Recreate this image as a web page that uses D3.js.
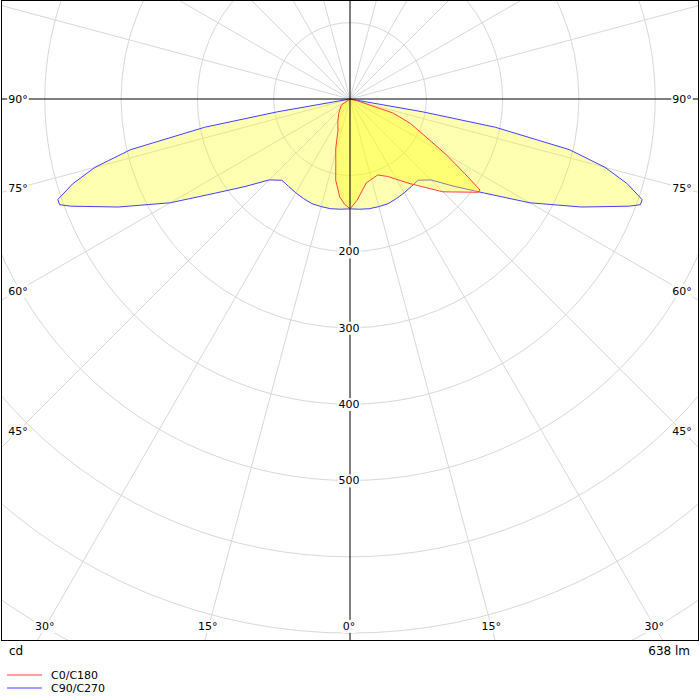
<!DOCTYPE html>
<html>
<head>
<meta charset="utf-8">
<script src="https://cdn.jsdelivr.net/npm/d3@7"></script>
<style>
  body { margin: 0; background: #fff; }
  text { font-family: Tahoma, "DejaVu Sans", sans-serif; font-size: 11px; }
</style>
</head>
<body>
<svg id="chart" width="700" height="700"></svg>
<script>
// C90/C270 (symmetric): angle from nadir (deg) -> cd
const c90Angles = [0, 5, 10, 15, 20, 25, 30, 35, 40, 45, 50, 55, 60, 65, 69, 70, 71, 73, 75, 77, 79, 80, 90]
const c90Values = [144, 145, 146, 146, 146, 144, 142, 140, 139, 150, 178, 215, 272, 335, 392, 405, 405, 380, 346, 295, 194, 96, 0]

// C0 side (right) and C180 side (left)
const c0Angles = [0, 4, 11, 20, 26, 35, 45, 54, 55, 57, 60, 63, 68, 72, 76, 90]
const c0Values = [144, 133, 112, 106, 113, 135, 172, 208, 208, 179, 145, 115, 85, 59, 10, 0]
const c180Angles = [0, 3, 6, 10, 12.5, 16, 21, 28, 38, 55, 90]
const c180Values = [144, 138, 129, 108, 86, 68, 44, 34, 24, 14, 0]

const ringValues = [100, 200, 300, 400, 500, 600, 700, 800, 900]
const ringLabels = [200, 300, 400, 500]
const sideAngles = [90, 75, 60, 45]
const bottomAngles = [30, 15, 0]

const svg = d3.select('#chart')
const W = 700, H = 640
const cx = 350, cy = 99
const r = d3.scaleLinear().domain([0, 100]).range([0, 76.3])

// angle from nadir, side +1 right / -1 left
const pt = (a, v, side) => {
    const t = a * Math.PI / 180
    return [cx + side * r(v) * Math.sin(t), cy + r(v) * Math.cos(t)]
}

svg.append('clipPath').attr('id', 'clip')
    .append('rect').attr('x', 1).attr('y', 0).attr('width', W - 2).attr('height', H)

const g = svg.append('g').attr('clip-path', 'url(#clip)')

g.selectAll('.ring').data(ringValues).join('circle')
    .attr('cx', cx).attr('cy', cy).attr('r', d => r(d))
    .attr('fill', 'none').attr('stroke', '#d8d8d8')

const spokes = d3.range(0, 360, 15).filter(a => a % 90 !== 0)
g.selectAll('.spoke').data(spokes).join('line')
    .attr('x1', cx).attr('y1', cy)
    .attr('x2', a => cx + 1200 * Math.sin(a * Math.PI / 180))
    .attr('y2', a => cy + 1200 * Math.cos(a * Math.PI / 180))
    .attr('stroke', '#d8d8d8')

const line = d3.line()

const c90Pts = [
    ...c90Angles.map((a, i) => pt(a, c90Values[i], 1)).reverse(),
    ...c90Angles.map((a, i) => pt(a, c90Values[i], -1)).slice(1)
]
const c0Pts = [
    ...c0Angles.map((a, i) => pt(a, c0Values[i], 1)).reverse(),
    ...c180Angles.map((a, i) => pt(a, c180Values[i], -1)).slice(1)
]

g.append('path').attr('d', line(c90Pts) + 'Z')
    .attr('fill', '#ffff00').attr('fill-opacity', 0.3)
    .attr('stroke', '#4040ff').attr('stroke-width', 1)
g.append('path').attr('d', line(c0Pts) + 'Z')
    .attr('fill', '#ffff00').attr('fill-opacity', 0.35)
    .attr('stroke', '#ff4040').attr('stroke-width', 1)

// axes
g.append('line').attr('x1', 0).attr('x2', W).attr('y1', cy).attr('y2', cy).attr('stroke', '#000')
g.append('line').attr('x1', cx).attr('x2', cx).attr('y1', 0).attr('y2', H).attr('stroke', '#000')

const label = (x, y, txt) => {
    const t = svg.append('text').attr('x', x).attr('y', y).attr('text-anchor', 'middle')
        .attr('dy', '0.35em').text(txt)
    const b = t.node().getBBox()
    svg.insert('rect', () => t.node())
        .attr('x', b.x - 1).attr('y', b.y).attr('width', b.width + 2).attr('height', b.height)
        .attr('fill', '#fff')
}

ringLabels.forEach(v => label(cx - 1, cy + r(v), v))
sideAngles.forEach(a => {
    const dy = a === 90 ? 0 : (cx - 18) / Math.tan(a * Math.PI / 180)
    label(18, cy + dy, a + '°')
    label(W - 18, cy + dy, a + '°')
})
bottomAngles.forEach(a => {
    const dx = (626 - cy) * Math.tan(a * Math.PI / 180)
    label(cx - dx - 1, 626, a + '°')
    if (a !== 0) label(cx + dx, 626, a + '°')
})

svg.append('rect').attr('x', 1.5).attr('y', 0.5).attr('width', W - 3).attr('height', H)
    .attr('fill', 'none').attr('stroke', '#000')

svg.append('text').attr('x', 9).attr('y', 655).style('font-size', '12px').text('cd')
svg.append('text').attr('x', 690).attr('y', 655).attr('text-anchor', 'end').style('font-size', '12px').text('638 lm')

const legend = [['C0/C180', '#ff4040'], ['C90/C270', '#4040ff']]
legend.forEach(([name, col], i) => {
    const y = 675 + i * 13
    svg.append('line').attr('x1', 7).attr('x2', 42).attr('y1', y).attr('y2', y).attr('stroke', col)
    svg.append('text').attr('x', 51).attr('y', y).attr('dy', '0.35em').text(name)
})
</script>
</body>
</html>
